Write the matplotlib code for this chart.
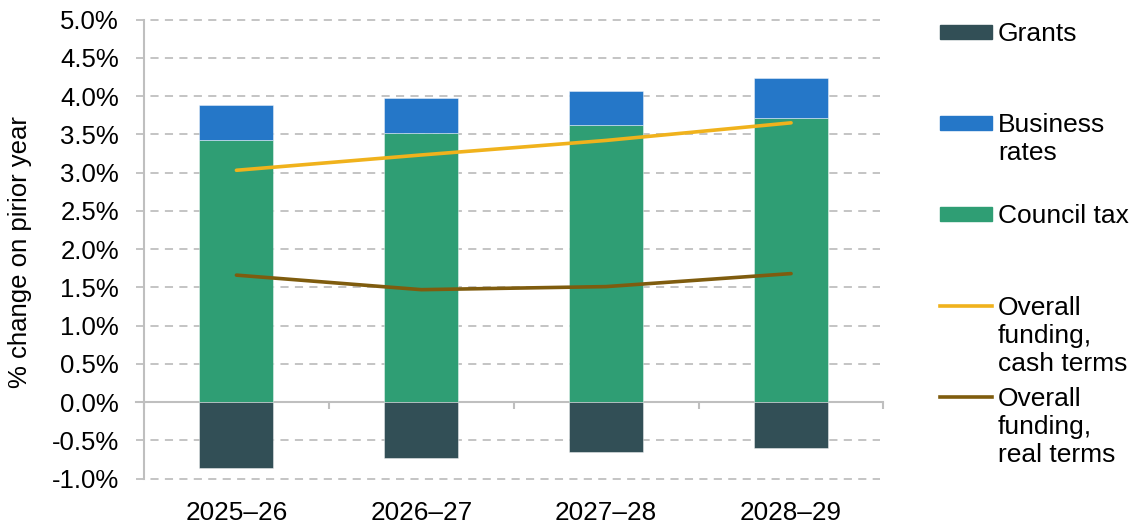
import matplotlib
matplotlib.use("Agg")
import matplotlib.pyplot as plt
from matplotlib.patches import Rectangle
from matplotlib.lines import Line2D
import numpy as np

plt.rcParams['font.family'] = ['Liberation Sans', 'DejaVu Sans']

categories = ["2025–26", "2026–27", "2027–28", "2028–29"]
grants = [-0.855, -0.73, -0.65, -0.595]
council_tax = [3.42, 3.52, 3.62, 3.71]
business_rates = [0.46, 0.45, 0.44, 0.53]
cash_terms = [3.03, 3.23, 3.42, 3.65]
real_terms = [1.66, 1.47, 1.51, 1.68]
yticks = [-1.0, -0.5, 0.0, 0.5, 1.0, 1.5, 2.0, 2.5, 3.0, 3.5, 4.0, 4.5, 5.0]

c_grants = "#324F56"
c_br = "#2577C8"
c_ct = "#2F9E74"
c_cash = "#F0B21C"
c_real = "#7F5C0E"
c_grid = "#BFBFBF"

W, H = 1136, 527
fig = plt.figure(figsize=(W / 100, H / 100), dpi=100)
ax = fig.add_axes([144 / W, (H - 478.7) / H, (883.5 - 144) / W, (478.7 - 19.5) / H])

x = np.arange(len(categories))
bw = 0.40
ax.bar(x, council_tax, bw, color=c_ct, edgecolor=(1, 1, 1, 0.5), linewidth=0.6, zorder=3)
ax.bar(x, business_rates, bw, bottom=council_tax, color=c_br, edgecolor=(1, 1, 1, 0.5), linewidth=0.6, zorder=3)
ax.bar(x, grants, bw, color=c_grants, edgecolor=(1, 1, 1, 0.5), linewidth=0.6, zorder=3)
ax.plot(x, cash_terms, color=c_cash, lw=2.6, solid_capstyle='round', zorder=4)
ax.plot(x, real_terms, color=c_real, lw=2.6, solid_capstyle='round', zorder=4)

ax.set_xlim(-0.5, len(categories) - 0.5)
ax.set_ylim(-1.0, 5.0)
ax.set_yticks(yticks)
ax.set_yticklabels([f"{v:.1f}%" for v in yticks], fontsize=18.5)
for v in yticks:
    if v == 0:
        continue
    ax.axhline(v, xmin=-8 / 740, xmax=0.995, color=c_grid, lw=1.3, ls=(0, (4.5, 3.5)), zorder=1, clip_on=False)
ax.axhline(0, xmin=-8 / 740, xmax=1.0, color=c_grid, lw=1.5, zorder=2, clip_on=False)

ax.tick_params(axis='y', length=0, pad=18)
ax.set_xticks(x)
ax.set_xticklabels(categories, fontsize=18.8)
ax.tick_params(axis='x', length=0, pad=16)

for s in ['top', 'right', 'bottom']:
    ax.spines[s].set_visible(False)
ax.spines['left'].set_color(c_grid)
ax.spines['left'].set_linewidth(1.5)

sec = ax.secondary_xaxis(1 / 6)
sec.set_xticks(np.arange(len(categories) + 1) - 0.5)
sec.tick_params(axis='x', length=5, width=1.5, color=c_grid, labelbottom=False, labeltop=False, direction='out')
sec.xaxis.set_ticks_position('bottom')
for s in ['top', 'left', 'right', 'bottom']:
    sec.spines[s].set_visible(False)
sec.set_xticklabels([])

fig.text(20 / W, 1 - 252 / H, "% change on pirior year", rotation=90, fontsize=18.5, ha='center', va='center')

# legend in pixel coordinates
def fy(py):
    return 1 - py / H

px0, px1 = 940 / W, 992 / W
tx = 998 / W
fs_leg = 19
patch_items = [(c_grants, "Grants", 32), (c_br, "Business\nrates", 123), (c_ct, "Council tax", 214)]
for col, lab, py in patch_items:
    fig.add_artist(Rectangle((px0, fy(py + 7)), px1 - px0, 14 / H, color=col, transform=fig.transFigure))
    fig.text(tx, fy(py - 10), lab, fontsize=fs_leg, ha='left', va='top', linespacing=1.2)
line_items = [(c_cash, "Overall\nfunding,\ncash terms", 306), (c_real, "Overall\nfunding,\nreal terms", 397)]
for col, lab, py in line_items:
    fig.add_artist(Line2D([px0, px1], [fy(py), fy(py)], color=col, lw=2.6, transform=fig.transFigure))
    fig.text(tx, fy(py - 10), lab, fontsize=fs_leg, ha='left', va='top', linespacing=1.2)

fig.savefig("out.png", dpi=100)
